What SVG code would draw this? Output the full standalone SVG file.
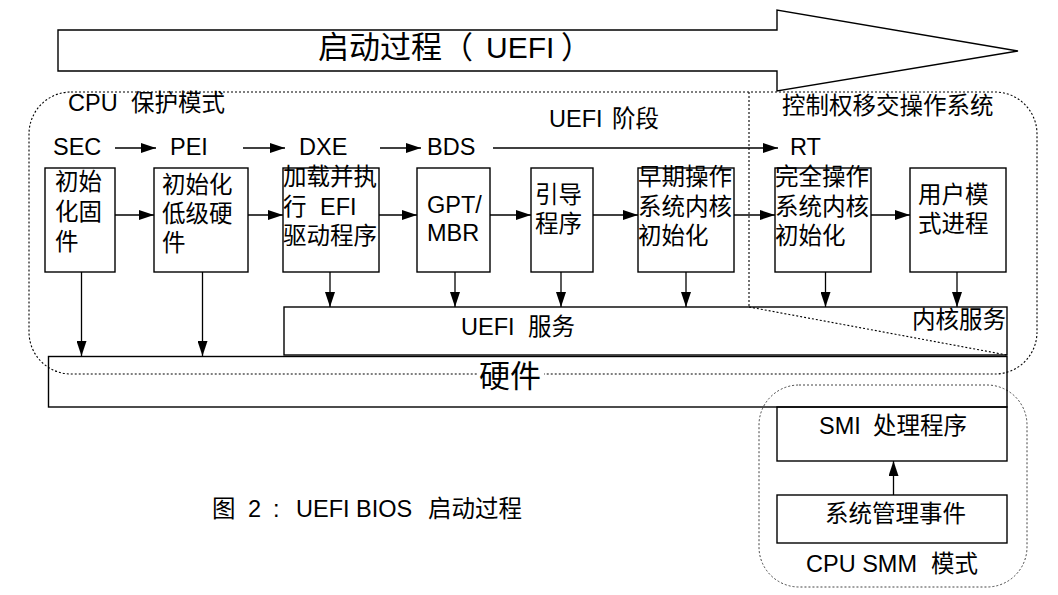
<svg xmlns="http://www.w3.org/2000/svg" width="1058" height="595" viewBox="0 0 1058 595">
<style>
text{font-family:"Liberation Sans","Noto Sans CJK SC",sans-serif;font-size:23.5px;fill:#000}
text.big{font-size:31px}
.box{fill:none;stroke:#000;stroke-width:1.4}
.dot{fill:none;stroke:#000;stroke-width:1.1;stroke-dasharray:2 2}
.dotg{fill:none;stroke:#444;stroke-width:1;stroke-dasharray:2 2}
.ln{fill:none;stroke:#000;stroke-width:1.3;marker-end:url(#ah)}
</style>
<defs>
<marker id="ah" markerUnits="userSpaceOnUse" markerWidth="15" markerHeight="10" refX="15" refY="5" orient="auto">
<path d="M0,0 L15,5 L0,10 z" fill="#000"/>
</marker>
</defs>
<rect width="1058" height="595" fill="#fff"/>

<g id="regions">
<rect x="29" y="92" width="1008" height="282" rx="42" ry="42" class="dot"/>
<line x1="749" y1="92" x2="749" y2="307" class="dot"/>
<line x1="749" y1="307" x2="1007" y2="355" class="dot"/>
<rect x="759" y="385" width="268" height="202" rx="40" ry="40" class="dotg"/>
<text x="68" y="111"><tspan x="68">CPU </tspan><tspan x="131">保护模式</tspan></text>
<text x="549" y="127"><tspan x="549">UEFI </tspan><tspan x="612">阶段</tspan></text>
<text x="782" y="114">控制权移交操作系统</text>
<text x="806" y="572"><tspan x="806">CPU SMM </tspan><tspan x="931">模式</tspan></text>
</g>

<g id="boot-arrow">
<polygon points="58,30 777,30 777,10 1018,51 777,91 777,71 58,71" class="box" stroke-width="1.2"/>
<text class="big" y="58"><tspan x="318">启动过程（</tspan><tspan x="486" style="font-size:30px">UEFI</tspan><tspan x="561">）</tspan></text>
</g>

<g id="phases">
<text x="53" y="155">SEC</text>
<text x="170" y="155">PEI</text>
<text x="299" y="155">DXE</text>
<text x="427" y="155">BDS</text>
<text x="790" y="155">RT</text>
</g>

<g id="connectors">
<line x1="115" y1="148" x2="156" y2="148" class="ln"/>
<line x1="243" y1="148" x2="285" y2="148" class="ln"/>
<line x1="380" y1="148" x2="421" y2="148" class="ln"/>
<line x1="493" y1="148" x2="778" y2="148" class="ln"/>

<line x1="115" y1="215" x2="154" y2="215" class="ln"/>
<line x1="248" y1="215" x2="283" y2="215" class="ln"/>
<line x1="379" y1="215" x2="417" y2="215" class="ln"/>
<line x1="490" y1="215" x2="531" y2="215" class="ln"/>
<line x1="593" y1="215" x2="638" y2="215" class="ln"/>
<line x1="734" y1="215" x2="775" y2="215" class="ln"/>
<line x1="871" y1="215" x2="910" y2="215" class="ln"/>

<line x1="81.5" y1="272" x2="81.5" y2="356" class="ln"/>
<line x1="202.5" y1="272" x2="202.5" y2="356" class="ln"/>
<line x1="330" y1="272" x2="330" y2="307" class="ln"/>
<line x1="455" y1="272" x2="455" y2="307" class="ln"/>
<line x1="561" y1="272" x2="561" y2="307" class="ln"/>
<line x1="686" y1="272" x2="686" y2="307" class="ln"/>
<line x1="825.5" y1="272" x2="825.5" y2="307" class="ln"/>
<line x1="957" y1="272" x2="957" y2="307" class="ln"/>

<line x1="893.5" y1="495" x2="893.5" y2="461" class="ln"/>
</g>

<g id="sec">
<rect x="45" y="168" width="70" height="104" class="box"/>
<text x="55" y="190">初始</text>
<text x="55" y="220">化固</text>
<text x="55" y="250">件</text>
</g>
<g id="pei">
<rect x="154" y="168" width="94" height="104" class="box"/>
<text x="162" y="193">初始化</text>
<text x="162" y="222">低级硬</text>
<text x="162" y="251">件</text>
</g>
<g id="dxe">
<rect x="283" y="168" width="96" height="104" class="box"/>
<text x="283" y="185">加载并执</text>
<text x="283" y="215"><tspan x="283">行 </tspan><tspan x="320">EFI</tspan></text>
<text x="283" y="244">驱动程序</text>
</g>
<g id="gpt">
<rect x="417" y="168" width="73" height="104" class="box"/>
<text x="427" y="213">GPT/</text>
<text x="427" y="241">MBR</text>
</g>
<g id="loader">
<rect x="531" y="168" width="62" height="104" class="box"/>
<text x="535" y="203">引导</text>
<text x="535" y="232">程序</text>
</g>
<g id="early-kernel">
<rect x="638" y="168" width="96" height="104" class="box"/>
<text x="638" y="185">早期操作</text>
<text x="638" y="215">系统内核</text>
<text x="638" y="244">初始化</text>
</g>
<g id="full-kernel">
<rect x="775" y="168" width="96" height="104" class="box"/>
<text x="775" y="185">完全操作</text>
<text x="775" y="215">系统内核</text>
<text x="775" y="244">初始化</text>
</g>
<g id="user">
<rect x="910" y="168" width="96" height="104" class="box"/>
<text x="918" y="203">用户模</text>
<text x="918" y="232">式进程</text>
</g>

<g id="uefi-services">
<rect x="284" y="307" width="723" height="48" class="box"/>
<text x="461" y="335"><tspan x="461">UEFI </tspan><tspan x="528">服务</tspan></text>
<text x="912" y="328">内核服务</text>
</g>

<g id="hardware">
<rect x="48.5" y="356.5" width="958.5" height="50.5" class="box"/>
<rect x="478" y="360" width="66" height="32" fill="#fff"/>
<text class="big" x="479" y="387">硬件</text>
</g>

<g id="smi-handler">
<rect x="777" y="407" width="230" height="54" class="box"/>
<text x="819" y="434"><tspan x="819">SMI </tspan><tspan x="873">处理程序</tspan></text>
</g>
<g id="smm-event">
<rect x="777" y="495" width="230" height="48" class="box"/>
<text x="825" y="522">系统管理事件</text>
</g>

<g id="caption">
<text x="212" y="517"><tspan x="212">图 </tspan><tspan x="248">2 </tspan><tspan x="273">: </tspan><tspan x="296">UEFI BIOS </tspan><tspan x="428">启动过程</tspan></text>
</g>
</svg>
